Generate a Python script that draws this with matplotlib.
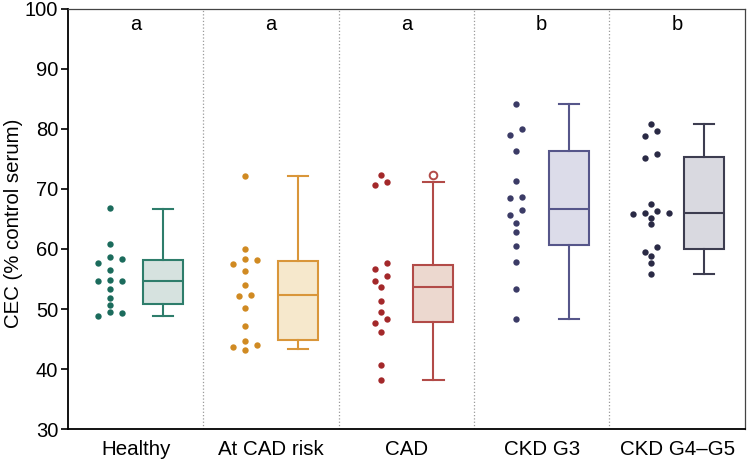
import numpy as np
import matplotlib
matplotlib.use('Agg')
import matplotlib.pyplot as plt

plt.rcParams['font.family'] = ['Liberation Sans', 'DejaVu Sans']

# Data
groups = ['Healthy', 'At CAD risk', 'CAD', 'CKD G3', 'CKD G4\u2013G5']
letters = ['a', 'a', 'a', 'b', 'b']

healthy = [66.8, 60.8, 58.6, 58.3, 57.6, 56.5, 54.9, 54.7, 54.6, 53.3, 51.9, 50.6, 49.5, 49.3, 48.9]
cad_risk = [72.2, 60.0, 58.3, 58.1, 57.5, 56.4, 54.0, 52.3, 52.1, 50.1, 47.1, 44.6, 44.0, 43.6, 43.2]
cad = [72.4, 71.1, 70.7, 57.6, 56.6, 55.5, 54.6, 53.6, 51.4, 49.5, 48.4, 47.7, 46.1, 40.6, 38.2]
ckd_g3 = [84.2, 80.0, 79.0, 76.4, 71.4, 68.7, 68.5, 66.5, 65.6, 64.3, 62.9, 60.5, 57.8, 53.4, 48.3]
ckd_g45 = [80.8, 79.7, 78.9, 75.8, 75.2, 67.5, 66.4, 66.0, 66.0, 65.9, 65.2, 64.1, 60.3, 59.5, 58.8, 57.6, 55.8]
all_points = [healthy, cad_risk, cad, ckd_g3, ckd_g45]

# box stats: low whisker, q1, median, q3, high whisker
whisk_lo = [48.9, 43.3, 38.2, 48.3, 55.8]
q1 = [50.8, 44.8, 47.8, 60.6, 60.0]
med = [54.7, 52.3, 53.6, 66.6, 66.0]
q3 = [58.2, 58.0, 57.4, 76.3, 75.4]
whisk_hi = [66.7, 72.2, 71.1, 84.2, 80.8]
outliers = [[], [], [72.4], [], []]

point_colors = ['#1b6b5c', '#d08a22', '#a3282a', '#3b3b66', '#2a2a45']
edge_colors = ['#2e7d6b', '#d9963a', '#b24b48', '#56568a', '#3d3d50']
face_colors = ['#d6e2df', '#f6e8cc', '#ecd8cf', '#dcdce9', '#d9d9e0']

STEP = 0.0886
ROW_H = 1.05


def swarm_offsets(vals):
    # simple row-based swarm: close values share a row, centred on the column
    vals = sorted(vals, reverse=True)
    xs, ys = [], []
    i = 0
    while i < len(vals):
        row = [vals[i]]
        j = i + 1
        while j < len(vals) and vals[i] - vals[j] < ROW_H:
            row.append(vals[j])
            j += 1
        n = len(row)
        if n % 2:
            slots = [0]
            for k in range(1, n // 2 + 1):
                slots += [k, -k]
        else:
            slots = []
            for k in range(n // 2):
                slots += [k + 0.5, -(k + 0.5)]
        xs += [s * STEP for s in slots]
        ys += row
        i = j
    return np.array(xs), np.array(ys)


fig = plt.figure(figsize=(7.47, 4.61), dpi=100)
ax = fig.add_axes([0.091, 0.0694, 0.906, 0.9111])

for i, vals in enumerate(all_points):
    dx, vy = swarm_offsets(vals)
    ax.scatter(i - 0.19 + dx, vy, s=21, color=point_colors[i], zorder=3, linewidths=0)

stats = []
for i in range(len(groups)):
    stats.append(dict(whislo=whisk_lo[i], q1=q1[i], med=med[i], q3=q3[i],
                      whishi=whisk_hi[i], fliers=outliers[i]))

for i, st in enumerate(stats):
    c = edge_colors[i]
    ax.bxp([st], positions=[i + 0.2], widths=0.295, capwidths=0.15, patch_artist=True,
           boxprops=dict(facecolor=face_colors[i], edgecolor=c, linewidth=1.5),
           medianprops=dict(color=c, linewidth=1.5),
           whiskerprops=dict(color=c, linewidth=1.5),
           capprops=dict(color=c, linewidth=1.5),
           flierprops=dict(marker='o', markerfacecolor='white', markeredgecolor=c,
                           markersize=5.5, markeredgewidth=1.4))

for k in range(1, len(groups)):
    ax.axvline(k - 0.5, color='#9a9a9a', linestyle=':', linewidth=0.9, zorder=1)

for i, t in enumerate(letters):
    ax.text(i, 97.4, t, ha='center', va='center', fontsize=14.5)

ax.set_xlim(-0.5, len(groups) - 0.5)
ax.set_ylim(30, 100)
ax.set_yticks(range(30, 101, 10))
ax.set_xticks(range(len(groups)))
ax.set_xticklabels(groups, fontsize=14.8)
ax.tick_params(axis='x', length=0, pad=8)
ax.tick_params(axis='y', labelsize=14.5, length=5, width=1.2, direction='out', pad=2)
ax.set_ylabel('CEC (% control serum)', fontsize=14.7)
ax.yaxis.set_label_coords(-0.066, 0.49)

for s in ['left', 'bottom']:
    ax.spines[s].set_linewidth(1.3)
    ax.spines[s].set_color('black')
for s in ['top', 'right']:
    ax.spines[s].set_linewidth(0.9)
    ax.spines[s].set_color('#444444')

fig.savefig('out.png', dpi=100)
